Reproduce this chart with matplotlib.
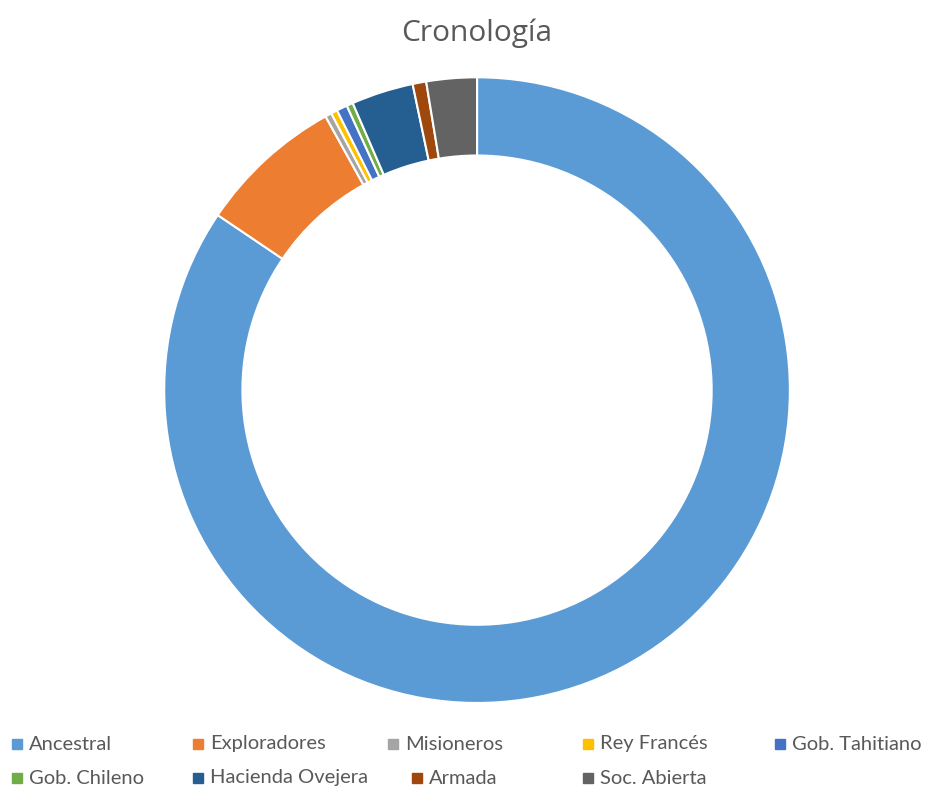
import matplotlib.pyplot as plt
from matplotlib.patches import Rectangle

# periodos y su peso en la cronologia (%)
periodos = ['Ancestral', 'Exploradores', 'Misioneros', 'Rey Francés', 'Gob. Tahitiano',
            'Gob. Chileno', 'Hacienda Ovejera', 'Armada', 'Soc. Abierta']
pesos = [84.4, 7.5, 0.33, 0.33, 0.55, 0.33, 3.2, 0.7, 2.6]
colores = ['#5B9BD5', '#ED7D31', '#A5A5A5', '#FFC000', '#4472C4',
           '#70AD47', '#255E91', '#9E480E', '#636363']

fig = plt.figure(figsize=(9.29, 7.92), dpi=100)
ax = fig.add_axes([0.1765, 0.1124, 0.674, 0.790])
ax.pie(pesos, colors=colores, startangle=90, counterclock=False,
       wedgeprops=dict(width=0.25, edgecolor='white', linewidth=1.5))
ax.set_xlim(-1, 1)
ax.set_ylim(-1, 1)
ax.set_aspect('equal')

fig.text(0.5135, 0.958, 'Cronología', ha='center', va='center',
         fontsize=21.5, color='#595959', family='Open Sans')

# leyenda en dos filas, como la de Excel
pos = [(12, 744), (193, 744), (388, 744), (583, 744), (775, 744),
       (12, 778), (193, 778), (412, 778), (583, 778)]
W, H = 929, 792
for (x, y), nom, c in zip(pos, periodos, colores):
    fig.patches.append(Rectangle((x / W, 1 - (y + 5) / H), 10 / W, 10 / H,
                                 transform=fig.transFigure, color=c))
    fig.text((x + 17) / W, 1 - y / H, nom, ha='left', va='center',
             fontsize=14.5, color='#595959', family='Lato')

fig.savefig('out.png')
